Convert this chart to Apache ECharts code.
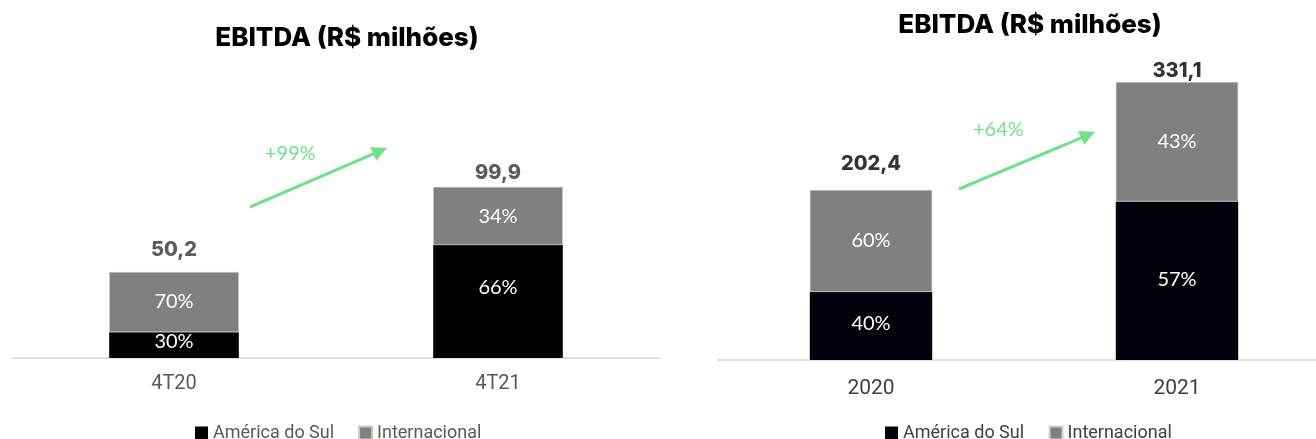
<!DOCTYPE html>
<html>
<head>
<meta charset="utf-8">
<script src="https://cdn.jsdelivr.net/npm/echarts@6/dist/echarts.min.js"></script>
<style>
  html, body { margin: 0; padding: 0; background: #fff; overflow: hidden; }
  /* o gráfico da direita é cortado na borda, por isso o container é mais largo que a janela */
  #chart { width: 1330px; height: 439px; }
</style>
</head>
<body>
<div id="chart"></div>
<script>
  // dados - gráfico trimestral (esquerda)
  var quarterCategories = ['4T20', '4T21']
  var quarterTotals = [50.2, 99.9]
  var quarterSulShare = [30, 66]
  var quarterIntShare = [70, 34]

  // dados - gráfico anual (direita)
  var yearCategories = ['2020', '2021']
  var yearTotals = [202.4, 331.1]
  var yearSulShare = [40, 57]
  var yearIntShare = [60, 43]

  var growthLabels = ['+99%', '+64%']

  var green = '#72e28a'

  function part (totals, shares) {
    return totals.map(function (t, i) { return +(t * shares[i] / 100).toFixed(1) })
  }
  function fmtBR (v) { return v.toFixed(1).replace('.', ',') }

  // rótulo de % dentro do segmento (dy = ajuste vertical por barra)
  function segData (totals, shares, dy) {
    return part(totals, shares).map(function (v, i) {
      return { value: v, label: { offset: [0, dy[i]] } }
    })
  }
  function segLabel (shares) {
    return {
      show: true,
      position: 'inside',
      color: '#fff',
      fontFamily: 'Lato',
      fontSize: 20,
      formatter: function (p) { return shares[p.dataIndex] + '%' }
    }
  }

  // total acima da barra (dist = distância por barra)
  function totalData (totals, dist) {
    return totals.map(function (v, i) {
      return { value: v, label: { distance: dist[i] } }
    })
  }

  // seta verde com cabeça
  function arrow (x1, y1, x2, y2) {
    var dx = x2 - x1, dy = y2 - y1
    var len = Math.sqrt(dx * dx + dy * dy)
    var ux = dx / len, uy = dy / len
    var hl = 15, hw = 7.5
    var bx = x2 - ux * hl, by = y2 - uy * hl
    return [
      { type: 'line', shape: { x1: x1, y1: y1, x2: bx + ux * 2, y2: by + uy * 2 }, style: { stroke: green, lineWidth: 3 } },
      { type: 'polygon', shape: { points: [[x2, y2], [bx - uy * hw, by + ux * hw], [bx + uy * hw, by - ux * hw]] }, style: { fill: green } }
    ]
  }

  var option = {
    animation: false,
    backgroundColor: '#fff',
    title: [
      { text: 'EBITDA (R$ milhões)', left: 342, top: 20, textAlign: 'center',
        textStyle: { fontFamily: 'Inter', fontWeight: 800, fontSize: 26, color: '#000' } },
      { text: 'EBITDA (R$ milhões)', left: 1025, top: 7, textAlign: 'center',
        textStyle: { fontFamily: 'Inter', fontWeight: 800, fontSize: 26, color: '#000' } }
    ],
    legend: [
      { data: ['América do Sul', 'Internacional'], left: 190, top: 419, itemWidth: 13, itemHeight: 13, itemGap: 24,
        icon: 'rect', textStyle: { fontFamily: 'Roboto', fontSize: 18, color: '#595959' } },
      { data: ['América do Sul ', 'Internacional '], left: 880, top: 419, itemWidth: 13, itemHeight: 13, itemGap: 20,
        icon: 'rect', textStyle: { fontFamily: 'Roboto', fontSize: 18, color: '#404040' } }
    ],
    grid: [
      { left: 12, width: 648, top: 101, height: 257 },
      { left: 718, width: 612, top: 24, height: 336 }
    ],
    xAxis: [
      { type: 'category', gridIndex: 0, data: quarterCategories,
        axisLine: { lineStyle: { color: '#d9d9d9', width: 1.5 } }, axisTick: { show: false },
        axisLabel: { margin: 16, fontFamily: 'Roboto', fontSize: 20, color: '#595959' } },
      { type: 'category', gridIndex: 1, data: yearCategories,
        axisLine: { lineStyle: { color: '#d9d9d9', width: 1.5 } }, axisTick: { show: false },
        axisLabel: { margin: 18, fontFamily: 'Roboto', fontSize: 21, color: '#404040' } }
    ],
    yAxis: [
      { type: 'value', gridIndex: 0, min: 0, max: 150, show: false },
      { type: 'value', gridIndex: 1, min: 0, max: 400, show: false }
    ],
    series: [
      { name: 'América do Sul', type: 'bar', stack: 'q', xAxisIndex: 0, yAxisIndex: 0, barWidth: '40%',
        itemStyle: { color: '#000' }, label: segLabel(quarterSulShare),
        data: segData(quarterTotals, quarterSulShare, [-4, -14]) },
      { name: 'Internacional', type: 'bar', stack: 'q', xAxisIndex: 0, yAxisIndex: 0, barWidth: '40%',
        itemStyle: { color: '#808080', borderColor: '#c9cbc0', borderWidth: 0.6 }, label: segLabel(quarterIntShare),
        data: segData(quarterTotals, quarterIntShare, [-1, 1]) },
      { name: 'total-q', type: 'scatter', xAxisIndex: 0, yAxisIndex: 0, symbolSize: 0, silent: true,
        label: { show: true, position: 'top', fontFamily: 'Inter', fontWeight: 800, fontSize: 20, color: '#333',
          formatter: function (p) { return fmtBR(p.value) } },
        data: totalData(quarterTotals, [12, 4]) },
      { name: 'América do Sul ', type: 'bar', stack: 'y', xAxisIndex: 1, yAxisIndex: 1, barWidth: '40%',
        itemStyle: { color: '#02020c' }, label: segLabel(yearSulShare),
        data: segData(yearTotals, yearSulShare, [-2, -1]) },
      { name: 'Internacional ', type: 'bar', stack: 'y', xAxisIndex: 1, yAxisIndex: 1, barWidth: '40%',
        itemStyle: { color: '#808080', borderColor: '#d0d0d0', borderWidth: 0.6 }, label: segLabel(yearIntShare),
        data: segData(yearTotals, yearIntShare, [0, 0]) },
      { name: 'total-y', type: 'scatter', xAxisIndex: 1, yAxisIndex: 1, symbolSize: 0, silent: true,
        label: { show: true, position: 'top', fontFamily: 'Inter', fontWeight: 800, fontSize: 20, color: '#000',
          formatter: function (p) { return fmtBR(p.value) } },
        data: totalData(yearTotals, [16, 1]) }
    ],
    graphic: arrow(250, 207, 387, 148).concat(arrow(959, 189, 1095, 132)).concat([
      { type: 'text', left: 265, top: 144, style: { text: growthLabels[0], fill: green, font: '20px Lato' } },
      { type: 'text', left: 973, top: 120, style: { text: growthLabels[1], fill: green, font: '20px Lato' } }
    ])
  }

  var chart = echarts.init(document.getElementById('chart'))
  chart.setOption(option)
</script>
</body>
</html>
